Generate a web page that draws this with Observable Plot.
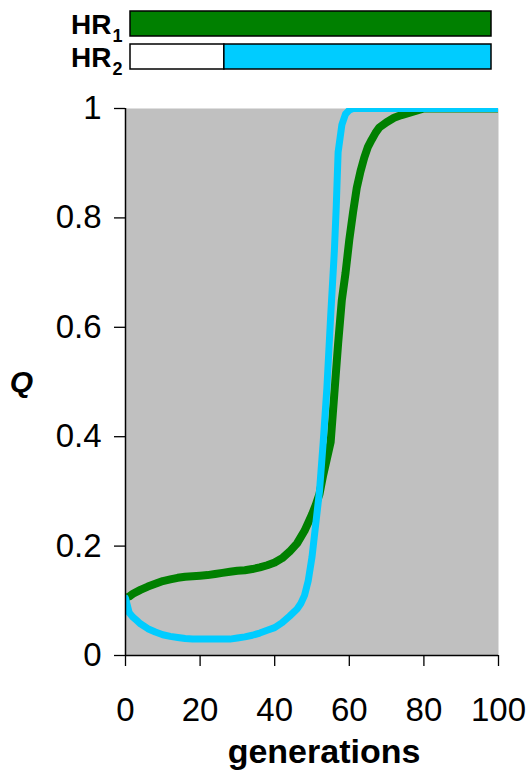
<!DOCTYPE html>
<html>
<head>
<meta charset="utf-8">
<script src="https://cdn.jsdelivr.net/npm/d3@7"></script>
<script src="https://cdn.jsdelivr.net/npm/@observablehq/plot@0.6"></script>
<style>
  html, body { margin: 0; padding: 0; background: white; }
  #chart svg { display: block; }
</style>
</head>
<body>
<div id="chart"></div>
<script>
// ---- data ----
const hrRows = ["HR1", "HR2"];
const hrOnStart = [0, 26];      // generation at which each HR becomes active
const hrOnEnd = [100, 100];

const genHR1 = [0, 1, 2, 4, 6, 8, 10, 12, 14, 16, 18, 20, 22, 24, 26, 28, 30, 32, 34, 36, 38, 40, 42, 44, 46, 48, 50, 51, 52, 53, 54, 55, 56, 57, 58, 59, 60, 61, 62, 63, 64, 65, 66, 67, 68, 70, 72, 74, 76, 78, 80, 90, 100];
const qHR1 = [0.105, 0.108, 0.113, 0.120, 0.126, 0.131, 0.136, 0.139, 0.142, 0.144, 0.145, 0.146, 0.147, 0.149, 0.151, 0.153, 0.155, 0.156, 0.158, 0.161, 0.165, 0.170, 0.178, 0.190, 0.205, 0.228, 0.258, 0.275, 0.295, 0.330, 0.360, 0.390, 0.480, 0.570, 0.650, 0.700, 0.760, 0.810, 0.855, 0.885, 0.910, 0.930, 0.943, 0.955, 0.965, 0.975, 0.983, 0.988, 0.992, 0.996, 1.0, 1.0, 1.0];

const genHR2 = [0, 1, 2, 3, 4, 6, 8, 10, 12, 14, 16, 18, 20, 24, 28, 30, 32, 34, 36, 38, 40, 42, 44, 46, 47, 48, 49, 50, 51, 52, 53, 54, 55, 56, 56.5, 57, 58, 59, 60, 61, 80, 100];
const qHR2 = [0.105, 0.078, 0.070, 0.064, 0.058, 0.049, 0.043, 0.038, 0.035, 0.033, 0.031, 0.030, 0.030, 0.030, 0.030, 0.032, 0.034, 0.037, 0.041, 0.046, 0.051, 0.060, 0.072, 0.085, 0.095, 0.110, 0.137, 0.180, 0.240, 0.300, 0.390, 0.490, 0.620, 0.740, 0.820, 0.920, 0.970, 0.990, 0.997, 1.0, 1.0, 1.0];

const xTicks = [0, 20, 40, 60, 80, 100];
const yTicks = [0, 0.2, 0.4, 0.6, 0.8, 1];

// ---- styles ----
const font = "'Liberation Sans', Arial, Helvetica, sans-serif";
const colorScale = {domain: hrRows, range: ["#008000", "#00ccff"]};

// ---- top strip: HR activity bars ----
const topPlot = Plot.plot({
  width: 531,
  height: 82,
  marginTop: 10,
  marginBottom: 13,
  marginLeft: 130,
  marginRight: 40,
  style: {fontFamily: font, color: "black", background: "white"},
  x: {domain: [0, 100], axis: null},
  y: {domain: hrRows, axis: null, paddingInner: 0.25, paddingOuter: 0},
  color: colorScale,
  marks: [
    Plot.barX(hrRows, {x1: () => 0, x2: (d, i) => hrOnStart[i], y: d => d, fill: "white", stroke: "black", strokeWidth: 1.5}),
    Plot.barX(hrRows, {x1: (d, i) => hrOnStart[i], x2: (d, i) => hrOnEnd[i], y: d => d, fill: d => d, stroke: "black", strokeWidth: 1.5}),
    Plot.text(hrRows, {x: () => 0, y: d => d, text: d => d.slice(0, 2), textAnchor: "end", lineAnchor: "middle", dx: -19, dy: 1, fontSize: 28, fontWeight: "bold", fill: "black"}),
    Plot.text(hrRows, {x: () => 0, y: d => d, text: d => d.slice(2), textAnchor: "start", lineAnchor: "middle", dx: -18, dy: 12.5, fontSize: 18, fontWeight: "bold", fill: "black"})
  ]
});

// ---- main chart ----
const mainPlot = Plot.plot({
  width: 531,
  height: 700,
  marginTop: 26,
  marginBottom: 127,
  marginLeft: 125,
  marginRight: 33,
  style: {fontFamily: font, fontSize: "33px", color: "black", background: "white"},
  x: {domain: [0, 100]},
  y: {domain: [0, 1]},
  color: colorScale,
  marks: [
    Plot.frame({fill: "#c0c0c0", stroke: "none"}),
    Plot.line(genHR1, {x: genHR1, y: qHR1, stroke: () => "HR1", strokeWidth: 8, clip: true}),
    Plot.line(genHR2, {x: genHR2, y: qHR2, stroke: () => "HR2", strokeWidth: 7, clip: true}),
    Plot.axisX({ticks: xTicks, tickSize: 11, tickPadding: 31, fontSize: 33, strokeWidth: 1.3, label: null}),
    Plot.axisY({ticks: yTicks, tickFormat: d => String(d), tickSize: 11, tickPadding: 13, fontSize: 33, strokeWidth: 1.3, label: null}),
    Plot.ruleX([0], {stroke: "black", strokeWidth: 1.5}),
    Plot.ruleY([0], {stroke: "black", strokeWidth: 1.5}),
    Plot.text(["Q"], {frameAnchor: "left", lineAnchor: "middle", textAnchor: "middle", dx: -104, fontSize: 30, fontWeight: "bold", fontStyle: "italic", fill: "black"}),
    Plot.text(["generations"], {frameAnchor: "bottom", lineAnchor: "middle", textAnchor: "middle", dx: 12, dy: 97, fontSize: 34, fontWeight: "bold", fill: "black"})
  ]
});

const chart = document.getElementById("chart");
chart.appendChild(topPlot);
chart.appendChild(mainPlot);
</script>
</body>
</html>
